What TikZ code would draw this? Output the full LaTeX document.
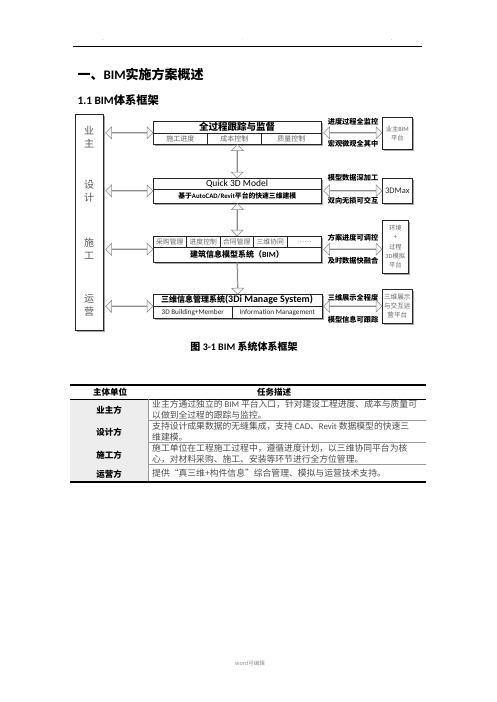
\documentclass[tikz,border=0pt]{standalone}
\usepackage{fontspec}
\setmainfont{Noto Sans CJK SC}
\newfontfamily\lat{Carlito}
\usetikzlibrary{shapes.arrows,shadows,calc}

\tikzset{
  frame/.style={draw=black!85, line width=0.6pt, fill=white, inner sep=0pt, anchor=north west,
    drop shadow={shadow xshift=1.5pt, shadow yshift=-1.5pt, fill=black!35, opacity=1}},
  cell/.style={draw=black!85, line width=0.5pt, inner sep=0pt, anchor=north west,
    text=black!60, font=\fontsize{7}{8}\selectfont},
  side/.style={frame, align=center, text=black!60, font=\fontsize{6.3}{9.3}\selectfont},
  who/.style={align=center, text=black!65, font=\fontsize{10}{13}\selectfont},
  tag/.style={inner sep=0pt, font=\bfseries\fontsize{7.2}{8}\selectfont},
  fatarrow/.style={double arrow, draw=black!45, line width=0.5pt, fill=black!4, inner sep=0pt,
    minimum width=12pt, double arrow head extend=3.5pt, double arrow tip angle=90},
  fatsingle/.style={single arrow, draw=black!45, line width=0.5pt, fill=black!4, inner sep=0pt,
    minimum width=12pt, single arrow head extend=3.5pt, single arrow tip angle=90},
  fat/.style={to path={let \p1=($(\tikztotarget)-(\tikztostart)$) in
    node[#1, minimum height={veclen(\x1,\y1)}, rotate={atan2(\y1,\x1)}]
      at ($(\tikztostart)!.5!(\tikztotarget)$) {}}},
  fat/.default=fatarrow,
  role/.style={font=\bfseries\fontsize{8.5}{9}\selectfont},
  desc/.style={anchor=west, align=left, inner sep=0pt, text=black!70, font=\fontsize{8.8}{10.5}\selectfont},
}

\begin{document}
\begin{tikzpicture}[x=1pt,y=-1pt]
        \useasboundingbox (0,0) rectangle (496,702);

        % page head
        \node[text=black!60, font=\fontsize{6}{6}\selectfont] (d1) at (103,40) {.};
        \node[text=black!30, font=\fontsize{6}{6}\selectfont] (d2) at (243,40) {.};
        \node[text=black!60, font=\fontsize{6}{6}\selectfont] (d3) at (392,40) {.};
        \draw[line width=0.8pt] (73,46) -- (422,46);

        \node[anchor=west, font=\bfseries\fontsize{13}{15}\selectfont] (title) at (74,74) {一、{\lat BIM}实施方案概述};
        \node[anchor=west, font=\bfseries\fontsize{11.3}{13}\selectfont] (sect) at (74,100) {{\lat 1.1 BIM}体系框架};

        % left column
        \node[frame, minimum width=28pt, minimum height=216pt] (actors) at (75,114) {};
        \node[who] (owner) at (89,137) {业\\主};
        \node[who] (design) at (89,191) {设\\计};
        \node[who] (build) at (89,249) {施\\工};
        \node[who] (operate) at (89,305) {运\\营};

        % middle column
        \node[frame, minimum width=168pt, minimum height=23pt] (trace) at (153,121) {};
        \node[font=\bfseries\fontsize{9.5}{10}\selectfont] (traceT) at (237,127) {全过程跟踪与监督};
        \node[cell, minimum width=54pt, minimum height=11pt] (c11) at (153,133) {施工进度};
        \node[cell, minimum width=54pt, minimum height=11pt] (c12) at (207,133) {成本控制};
        \node[cell, minimum width=60pt, minimum height=11pt] (c13) at (261,133) {质量控制};

        \node[frame, minimum width=168pt, minimum height=25pt] (quick) at (153,178) {};
        \node[font=\lat\fontsize{9.5}{10}\selectfont] (quickT) at (237,183.5) {Quick 3D Model};
        \node[cell, minimum width=168pt, minimum height=14pt, text=black,
              font=\bfseries\fontsize{6.8}{8}\selectfont] (quickB) at (153,189) {基于{\lat AutoCAD/Revit}平台的快速三维建模};

        \node[frame, minimum width=168pt, minimum height=26pt] (bim) at (153,236) {};
        \node[cell, minimum width=33pt, minimum height=11pt, font=\fontsize{6.8}{8}\selectfont] (c31) at (153,236) {采购管理};
        \node[cell, minimum width=34pt, minimum height=11pt, font=\fontsize{6.8}{8}\selectfont] (c32) at (186,236) {进度控制};
        \node[cell, minimum width=33pt, minimum height=11pt, font=\fontsize{6.8}{8}\selectfont] (c33) at (220,236) {合同管理};
        \node[cell, minimum width=34pt, minimum height=11pt, font=\fontsize{6.8}{8}\selectfont] (c34) at (253,236) {三维协同};
        \node[cell, minimum width=34pt, minimum height=11pt, font=\fontsize{6.8}{8}\selectfont] (c35) at (287,236) {……};
        \node[font=\bfseries\fontsize{8}{9}\selectfont] (bimT) at (237,254.5) {建筑信息模型系统（{\lat BIM}）};

        \node[frame, minimum width=169pt, minimum height=24pt] (tdi) at (153,294) {};
        \node[font=\bfseries\fontsize{8}{9}\selectfont] (tdiT) at (237,300) {三维信息管理系统{\lat\fontsize{10}{10}\selectfont(3Di Manage System)}};
        \node[cell, minimum width=79pt, minimum height=12pt, text=black!85, font=\lat\fontsize{7.2}{8}\selectfont] (c41) at (153,306) {3D Building+Member};
        \node[cell, minimum width=90pt, minimum height=12pt, text=black!85, font=\lat\fontsize{7.2}{8}\selectfont] (c42) at (232,306) {Information Management};

        % right column
        \node[side, minimum width=30pt, minimum height=32pt] (bimp) at (382,117) {业主{\lat BIM}\\平台};
        \node[side, minimum width=30pt, minimum height=25pt, text=black!85, font=\lat\fontsize{8.5}{9}\selectfont] (max) at (382,178) {3DMax};
        \node[side, minimum width=26pt, minimum height=53pt] (sim) at (382,220) {环境\\+\\过程\\{\lat 3D}模拟\\平台};
        \node[side, minimum width=30pt, minimum height=34pt, font=\fontsize{6.6}{9}\selectfont] (disp) at (382,289) {三维展示\\与交互运\\营平台};

        \node[tag] (t1a) at (353,122) {进度过程全监控};
        \node[tag] (t1b) at (353,144) {宏观微观全其中};
        \node[tag] (t2a) at (353,178) {模型数据深加工};
        \node[tag] (t2b) at (353,201) {双向无损可交互};
        \node[tag] (t3a) at (353,238) {方案进度可调控};
        \node[tag] (t3b) at (353,261) {及时数据快融合};
        \node[tag] (t4a) at (353,298) {三维展示全程度};
        \node[tag] (t4b) at (353,320) {模型信息可跟踪};

        % block arrows
        \path ($(actors.east |- trace.west)+(2,0)$) edge[fat] (trace.west);
        \path ($(actors.east |- quick.west)+(2,0)$) edge[fat] (quick.west);
        \path ($(actors.east |- bim.west)+(2,0)$) edge[fat] (bim.west);
        \path ($(actors.east |- tdi.west)+(2,0)$) edge[fat] (tdi.west);

        \path ($(trace.east)+(2,0)$) edge[fat] (trace.east -| bimp.west);
        \path ($(quick.east)+(2,0)$) edge[fat] (quick.east -| max.west);
        \path ($(bim.east)+(2,0)$) edge[fat] (bim.east -| sim.west);
        \path ($(tdi.east)+(1,0)$) edge[fat] (tdi.east -| disp.west);

        \path (trace.south) edge[fat] (quick.north);
        \path (quick.south) edge[fat] (bim.north);
        \path (bim.south) edge[fat=fatsingle] (tdi.north);

        \node[font=\bfseries\fontsize{10}{11}\selectfont] (cap) at (244,347) {图 {\lat 3-1 BIM} 系统体系框架};

        % table
        \fill[black!7] (70,399) rectangle (148,482);
        \draw[line width=1.5pt] (70,385) -- (426,385);
        \draw[line width=0.8pt] (70,399) -- (426,399);
        \draw[black!40, line width=0.4pt] (148,399) -- (148,482);
        \draw[black!40, line width=0.4pt] (148,420) -- (426,420);
        \draw[black!40, line width=0.4pt] (148,442) -- (426,442);
        \draw[black!40, line width=0.4pt] (148,464) -- (426,464);
        \draw[line width=1.5pt] (70,482) -- (426,482);

        \node[role] (h1) at (110,392) {主体单位};
        \node[role] (h2) at (274,392) {任务描述};
        \node[role] (r1) at (109,410) {业主方};
        \node[role] (r2) at (109,432) {设计方};
        \node[role] (r3) at (109,455) {施工方};
        \node[role] (r4) at (109,474) {运营方};

        \node[desc] (s1) at (152,409.5) {业主方通过独立的 {\lat BIM} 平台入口，针对建设工程进度、成本与质量可\\以做到全过程的跟踪与监控。};
        \node[desc] (s2) at (152,431.5) {支持设计成果数据的无缝集成，支持 {\lat CAD}、{\lat Revit} 数据模型的快速三\\维建模。};
        \node[desc] (s3) at (152,453.5) {施工单位在工程施工过程中，遵循进度计划，以三维协同平台为核\\心，对材料采购、施工、安装等环节进行全方位管理。};
        \node[desc] (s4) at (152,473.5) {提供“真三维+构件信息”综合管理、模拟与运营技术支持。};

        \node[text=black!45, font=\fontsize{5.5}{6}\selectfont] (foot) at (250,663) {word可编辑};
\end{tikzpicture}
\end{document}
